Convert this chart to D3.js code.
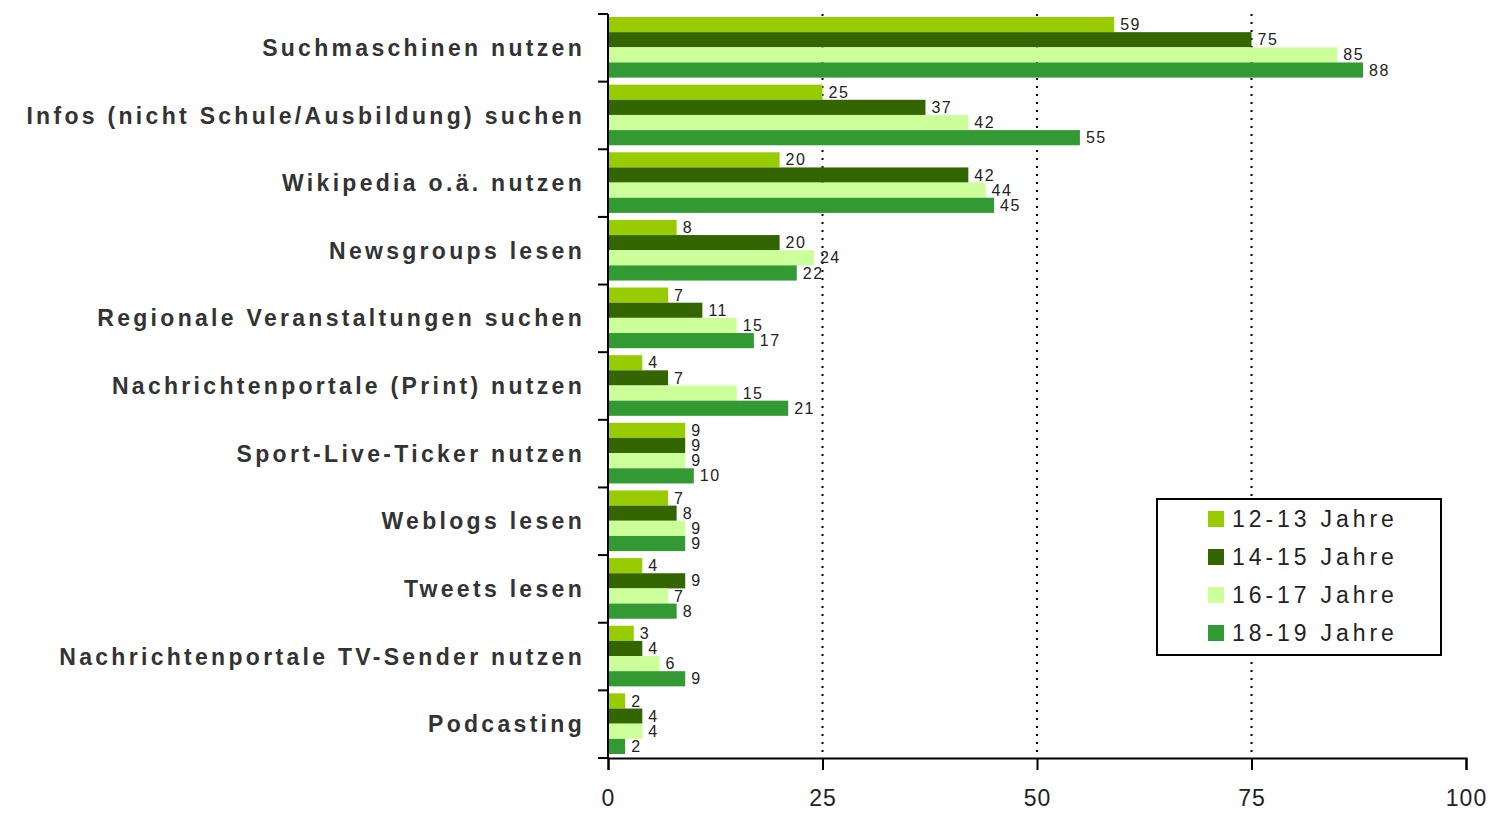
<!DOCTYPE html>
<html>
<head>
<meta charset="utf-8">
<script src="https://cdn.jsdelivr.net/npm/d3@7"></script>
<style>
	body { margin: 0; background: #fff; }
	svg { display: block; font-family: 'Liberation Sans', Arial, sans-serif; }
	.cat-label { font-size: 23px; font-weight: bold; fill: #333; letter-spacing: 3.3px; }
	.val-label { font-size: 16px; fill: #222; letter-spacing: 1.5px; }
	.tick-label { font-size: 23px; fill: #222; letter-spacing: 1px; }
	.legend-label { font-size: 23px; fill: #222; letter-spacing: 3.9px; }
</style>
</head>
<body>
<div id="chart"></div>
<script>
const categories = [
	'Suchmaschinen nutzen',
	'Infos (nicht  Schule/Ausbildung) suchen',
	'Wikipedia o.ä. nutzen',
	'Newsgroups lesen',
	'Regionale Veranstaltungen suchen',
	'Nachrichtenportale (Print) nutzen',
	'Sport-Live-Ticker nutzen',
	'Weblogs lesen',
	'Tweets lesen',
	'Nachrichtenportale TV-Sender nutzen',
	'Podcasting',
];

const seriesNames = ['12-13 Jahre', '14-15 Jahre', '16-17 Jahre', '18-19 Jahre'];
const seriesColors = ['#99cc00', '#336600', '#ccff99', '#339933'];

const age1213 = [59, 25, 20, 8, 7, 4, 9, 7, 4, 3, 2];
const age1415 = [75, 37, 42, 20, 11, 7, 9, 8, 9, 4, 4];
const age1617 = [85, 42, 44, 24, 15, 15, 9, 9, 7, 6, 4];
const age1819 = [88, 55, 45, 22, 17, 21, 10, 9, 8, 9, 2];

const xTicks = [0, 25, 50, 75, 100];

const seriesValues = [age1213, age1415, age1617, age1819];

const width = 1495;
const height = 818;

const svg = d3.select('#chart').append('svg')
	.attr('width', width)
	.attr('height', height);

const x = d3.scaleLinear()
	.domain([0, 100])
	.range([608, 1466]);

const y = d3.scaleBand()
	.domain(categories)
	.range([14, 758])
	.padding(0);

const ySub = d3.scaleBand()
	.domain(seriesNames)
	.range([3, y.bandwidth() - 4])
	.padding(0);

// dotted grid lines
svg.append('g')
	.selectAll('line')
	.data(xTicks.filter(t => t > 0 && t < 100))
	.enter().append('line')
	.attr('x1', d => x(d))
	.attr('x2', d => x(d))
	.attr('y1', 14)
	.attr('y2', 758)
	.attr('stroke', '#000')
	.attr('stroke-width', 2)
	.attr('stroke-dasharray', '2,6');

// bars
const rows = categories.map((c, i) => ({
	category: c,
	values: seriesNames.map((s, j) => ({series: s, value: seriesValues[j][i], color: seriesColors[j]})),
}));

const group = svg.append('g')
	.selectAll('.row')
	.data(rows)
	.enter().append('g')
	.attr('class', 'row')
	.attr('transform', d => `translate(0,${y(d.category)})`);

group.selectAll('rect')
	.data(d => d.values)
	.enter().append('rect')
	.attr('x', x(0))
	.attr('y', d => ySub(d.series))
	.attr('width', d => x(d.value) - x(0))
	.attr('height', ySub.bandwidth())
	.attr('fill', d => d.color);

group.selectAll('.val-label')
	.data(d => d.values)
	.enter().append('text')
	.attr('class', 'val-label')
	.attr('x', d => x(d.value) + 6)
	.attr('y', d => ySub(d.series) + ySub.bandwidth() / 2)
	.attr('dy', '0.35em')
	.text(d => d.value);

// category labels
svg.append('g')
	.selectAll('text')
	.data(categories)
	.enter().append('text')
	.attr('class', 'cat-label')
	.attr('x', 585)
	.attr('y', d => y(d) + y.bandwidth() / 2)
	.attr('dy', '0.35em')
	.attr('text-anchor', 'end')
	.text(d => d);

// y axis with ticks at band edges
const yEdges = categories.map(c => y(c)).concat([y.range()[1]]);
svg.append('line')
	.attr('x1', x(0)).attr('x2', x(0))
	.attr('y1', 14).attr('y2', 758)
	.attr('stroke', '#000').attr('stroke-width', 2);
svg.append('g')
	.selectAll('line')
	.data(yEdges)
	.enter().append('line')
	.attr('x1', x(0) - 10).attr('x2', x(0))
	.attr('y1', d => d).attr('y2', d => d)
	.attr('stroke', '#000').attr('stroke-width', 2);

// x axis
const xAxis = d3.axisBottom(x)
	.tickValues(xTicks)
	.tickSize(12)
	.tickPadding(20);

const xAxisG = svg.append('g')
	.attr('transform', 'translate(0,758)')
	.call(xAxis);
xAxisG.select('.domain').attr('stroke', '#000').attr('stroke-width', 2);
xAxisG.selectAll('.tick line').attr('stroke', '#000').attr('stroke-width', 2);
xAxisG.selectAll('.tick text')
	.attr('class', 'tick-label')
	.attr('font-size', null)
	.attr('font-family', null)
	.attr('fill', null);

// legend
const legend = svg.append('g')
	.attr('transform', 'translate(1157,499)');
legend.append('rect')
	.attr('width', 284)
	.attr('height', 156)
	.attr('fill', '#fff')
	.attr('stroke', '#000')
	.attr('stroke-width', 2);

const legendItem = legend.selectAll('.legend-item')
	.data(seriesNames)
	.enter().append('g')
	.attr('class', 'legend-item')
	.attr('transform', (d, i) => `translate(51,${20 + i * 38})`);

legendItem.append('rect')
	.attr('x', 0)
	.attr('y', -8)
	.attr('width', 16)
	.attr('height', 16)
	.attr('fill', (d, i) => seriesColors[i]);

legendItem.append('text')
	.attr('class', 'legend-label')
	.attr('x', 24)
	.attr('y', 0)
	.attr('dy', '0.35em')
	.text(d => d);
</script>
</body>
</html>
